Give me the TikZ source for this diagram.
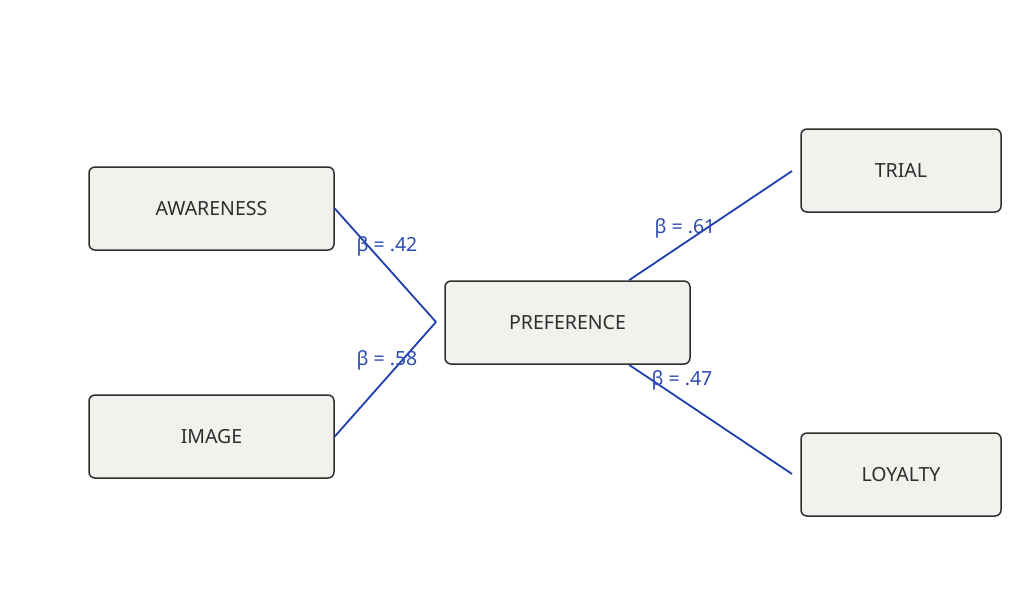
\documentclass[tikz,border=0pt]{standalone}
\usepackage{fontspec}
\setmainfont{Noto Sans}
\usetikzlibrary{calc}
\definecolor{boxfill}{HTML}{F2F1EE}
\definecolor{boxline}{HTML}{2E2E2E}
\definecolor{pathblue}{HTML}{1E40AF}
\definecolor{labblue}{HTML}{2B4BB0}
\begin{document}
\begin{tikzpicture}[x=1pt,y=-1pt,
  var/.style={draw=boxline,line width=1.5pt,fill=boxfill,rounded corners=6pt,
    minimum height=83pt,inner sep=0pt,font=\fontsize{19.5}{23}\selectfont,text=boxline},
  wide/.style={var,minimum width=245pt},
  narrow/.style={var,minimum width=200pt},
  path/.style={draw=pathblue,line width=1.8pt},
  beta/.style={text=labblue,font=\fontsize{19.5}{23}\selectfont,inner sep=0pt}]
\useasboundingbox (0,0) rectangle (1024,600);
\node[wide] (aw) at (211.5,208.5) {AWARENESS};
\node[wide] (im) at (211.5,436.5) {IMAGE};
\node[wide] (pr) at (567.5,322.5) {PREFERENCE};
\node[narrow] (tr) at (901,170.5) {TRIAL};
\node[narrow] (lo) at (901,474.5) {LOYALTY};
\coordinate (join) at (436,322);
\coordinate (trin) at (792,171);
\coordinate (loin) at (792,474);
\draw[path] (aw.east) -- (join);
\draw[path] (im.east) -- (join);
\draw[path] ([xshift=61.5pt]pr.north) -- (trin);
\draw[path] ([xshift=61.5pt]pr.south) -- (loin);
\node[beta] (b1) at (387,246) {β = .42};
\node[beta] (b2) at (387,360) {β = .58};
\node[beta] (b3) at (685,228) {β = .61};
\node[beta] (b4) at (682,380) {β = .47};
\end{tikzpicture}
\end{document}
